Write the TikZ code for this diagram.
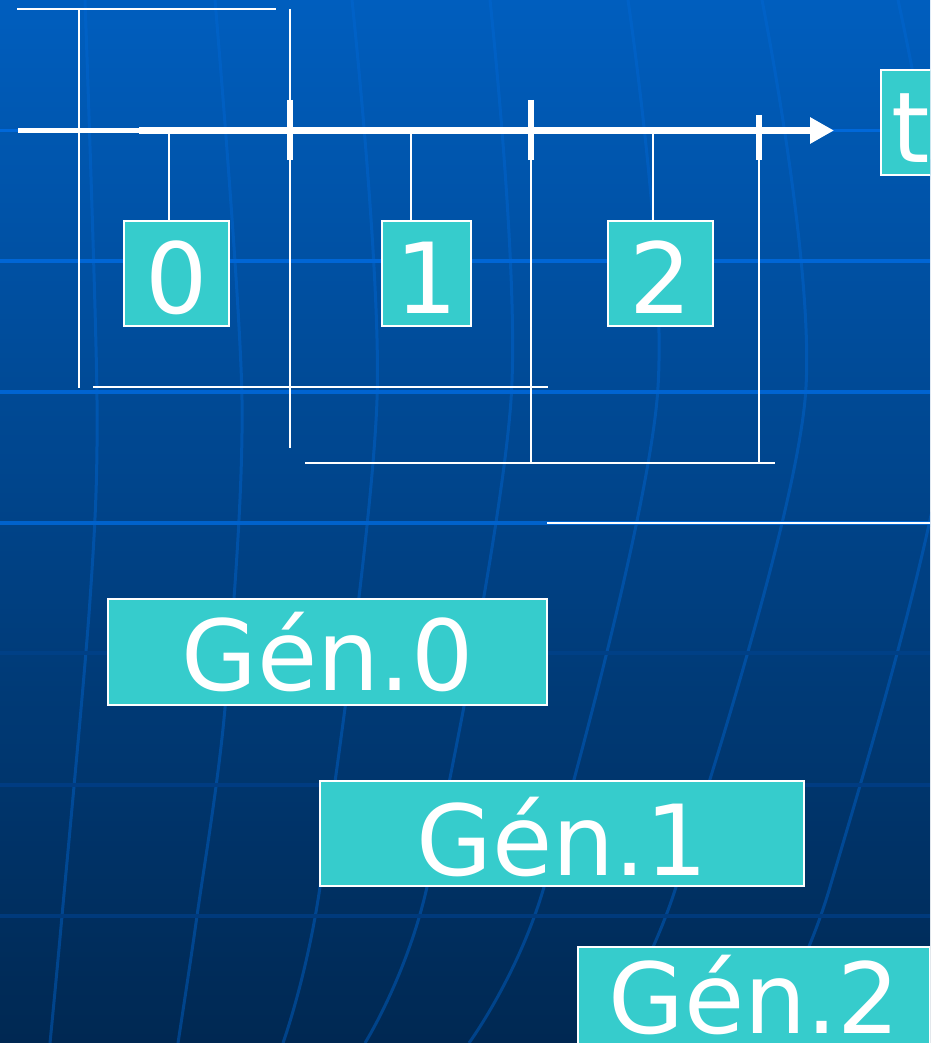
\documentclass[tikz,border=0pt]{standalone}
\usepackage{fontspec}
\setmainfont{DejaVu Sans}
\usetikzlibrary{arrows.meta}
\definecolor{tealbox}{RGB}{54,204,204}
\definecolor{bgtop}{RGB}{0,94,190}
\definecolor{bgmid}{RGB}{0,68,138}
\definecolor{bgbot}{RGB}{0,40,82}
\definecolor{gridv}{RGB}{0,104,214}
\definecolor{gridh}{RGB}{0,102,212}
\begin{document}
\begin{tikzpicture}[x=1pt,y=-1pt,
  tbox/.style={draw=white, line width=2pt, fill=tealbox, text=white,
    font=\fontsize{98}{110}\selectfont, inner sep=0pt, text depth=0pt},
  thinw/.style={draw=white, line width=2pt},
  tickw/.style={draw=white, line width=6pt},
  vgrid/.style={draw=gridv, line width=3pt, opacity=0.42},
  hgrid/.style={line width=3.5pt}]
\useasboundingbox (0,0) rectangle (930,1043);
\clip (0,0) rectangle (930,1043);
% background
\shade[top color=bgtop, middle color=bgmid, bottom color=bgbot] (0,0) rectangle (930,1043);
% grid: vertical curves
\draw[vgrid] plot[smooth] coordinates {(85,0) (97,400) (90,600) (62,916) (50,1043)};
\draw[vgrid] plot[smooth] coordinates {(215,0) (242,400) (225,708) (197,916) (178,1043)};
\draw[vgrid] plot[smooth] coordinates {(352,0) (377,400) (320,887) (283,1043)};
\draw[vgrid] plot[smooth] coordinates {(490,0) (511,400) (427,887) (365,1043)};
\draw[vgrid] plot[smooth] coordinates {(628,0) (657,400) (544,887) (469,1043)};
\draw[vgrid] plot[smooth] coordinates {(762,0) (805,400) (676,887) (600,1043)};
\draw[vgrid] plot[smooth] coordinates {(898,0) (950,400) (830,887) (760,1043)};
% grid: horizontal lines
\draw[hgrid, draw={rgb,255:red,0;green,104;blue,218}] (0,130.5) -- (930,130.5);
\draw[hgrid, draw={rgb,255:red,0;green,102;blue,214}] (0,261) -- (930,261);
\draw[hgrid, draw={rgb,255:red,0;green,100;blue,210}] (0,392) -- (930,392);
\draw[hgrid, draw={rgb,255:red,0;green,98;blue,204}] (0,523) -- (930,523);
\draw[hgrid, draw={rgb,255:red,0;green,64;blue,134}] (0,653) -- (930,653);
\draw[hgrid, draw={rgb,255:red,0;green,60;blue,130}] (0,785) -- (930,785);
\draw[hgrid, draw={rgb,255:red,0;green,58;blue,124}] (0,916) -- (930,916);

% coordinates of the frame lines
\coordinate (tl) at (17,9);
\coordinate (tr) at (276,9);
\coordinate (va0) at (78.5,9);
\coordinate (va1) at (78.5,388);
\coordinate (vb0) at (290,9);
\coordinate (vb1) at (290,448);
\coordinate (h1a) at (93,387);
\coordinate (h1b) at (548,387);
\coordinate (h2a) at (305,462.5);
\coordinate (h2b) at (775,462.5);
\coordinate (vc0) at (531,160);
\coordinate (vc1) at (531,462.5);
\coordinate (vd0) at (759,160);
\coordinate (vd1) at (759,462.5);
\coordinate (h3a) at (547,523);
\coordinate (h3b) at (931,523);

% frame lines
\draw[thinw] (tl) -- (tr);
\draw[thinw] (va0) -- (va1);
\draw[thinw] (vb0) -- (vb1);
\draw[thinw] (h1a) -- (h1b);
\draw[thinw] (h2a) -- (h2b);
\draw[thinw] (vc0) -- (vc1);
\draw[thinw] (vd0) -- (vd1);
\draw[thinw] (h3a) -- (h3b);

% time axis
\coordinate (axL) at (18,130.5);
\coordinate (axM) at (139,130.5);
\coordinate (axTip) at (834,130.5);
\draw[draw=white, line width=5pt] (axL) -- (axM);
\draw[draw=white, line width=7pt, -{Triangle[length=24pt,width=25pt]}] (axM) -- (axTip);

% ticks
\coordinate (t0a) at (290,100);
\coordinate (t0b) at (290,160);
\coordinate (t1a) at (531,100);
\coordinate (t1b) at (531,160);
\coordinate (t2a) at (759,115);
\coordinate (t2b) at (759,160);
\draw[tickw] (t0a) -- (t0b);
\draw[tickw] (t1a) -- (t1b);
\draw[tickw] (t2a) -- (t2b);

% generation interval boxes
\node[tbox, minimum width=105pt, minimum height=105pt, text height=80pt] (d0) at (176.5,273.5) {0};
\node[tbox, minimum width=89pt, minimum height=105pt, text height=80pt] (d1) at (426.5,273.5) {1};
\node[tbox, minimum width=105pt, minimum height=105pt, text height=80pt] (d2) at (660.5,273.5) {2};
\node[tbox, anchor=west, inner xsep=10pt, minimum height=105pt, text height=80pt] (tt) at (880,122.5) {t};

% connectors from axis to boxes
\coordinate (c0) at (169,133);
\coordinate (c1) at (411,133);
\coordinate (c2) at (653,133);
\draw[thinw] (c0) -- (c0 |- d0.north);
\draw[thinw] (c1) -- (c1 |- d1.north);
\draw[thinw] (c2) -- (c2 |- d2.north);

% generation labels
\node[tbox, minimum width=439pt, minimum height=106pt, text height=76pt] (g0) at (327.5,652) {Gén.0};
\node[tbox, minimum width=484pt, minimum height=105pt, text height=84pt] (g1) at (562,833.5) {Gén.1};
\node[tbox, minimum width=352pt, minimum height=105pt, text height=72pt, text depth=5pt] (g2) at (754,999.5) {Gén.2};
\end{tikzpicture}
\end{document}
